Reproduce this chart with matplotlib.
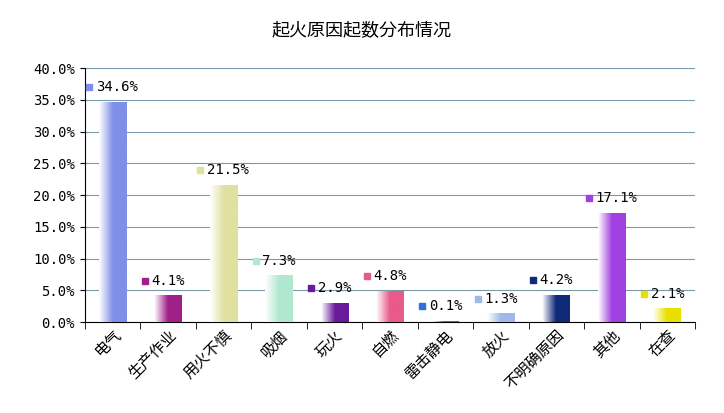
import numpy as np
import matplotlib.pyplot as plt
from matplotlib import font_manager
from matplotlib.colors import LinearSegmentedColormap

# pick whichever CJK face matplotlib actually knows about
names = {f.name for f in font_manager.fontManager.ttflist}
cjk = [n for n in ["Noto Sans CJK SC", "Noto Sans CJK JP", "Noto Sans CJK TC",
                   "Noto Sans CJK KR", "Noto Sans SC"] if n in names]
if not cjk:
    cjk = [f.name for f in font_manager.fontManager.ttflist if "CJK" in f.name or "CJK" in f.fname][:1]
plt.rcParams["font.family"] = cjk + ["DejaVu Sans"]

categories = ["电气", "生产作业", "用火不慎", "吸烟", "玩火", "自燃", "雷击静电", "放火", "不明确原因", "其他", "在查"]
values = [34.6, 4.1, 21.5, 7.3, 2.9, 4.8, 0.1, 1.3, 4.2, 17.1, 2.1]
colors = ["#7f8fe8", "#a0208a", "#e0e0a0", "#b0e8d0", "#6a1a9a", "#e85a8a",
          "#3070d8", "#a0b8e8", "#102a7a", "#a040e0", "#e8e000"]

fig = plt.figure(figsize=(7.24, 4.13), dpi=100)
ax = fig.add_axes([0.117, 0.22, 0.843, 0.615])
ax.set_xlim(-0.5, len(values) - 0.5)
ax.set_ylim(0, 40)

w = 0.5
for i, (v, c) in enumerate(zip(values, colors)):
    cmap = LinearSegmentedColormap.from_list("g", ["white", c, c])
    grad = np.linspace(0, 1, 64).reshape(1, -1)
    ax.imshow(grad, cmap=cmap, aspect="auto", extent=(i - w / 2, i + w / 2, 0, v), zorder=3)
    ax.plot(i - 0.5 + 0.08, v + 2.4, marker="s", ms=5, color=c, zorder=4, clip_on=False)
    ax.text(i - 0.5 + 0.2, v + 2.4, f"{v}%", va="center", ha="left", fontsize=10,
            family="DejaVu Sans Mono", zorder=4)

ax.set_yticks(np.arange(0, 41, 5))
ax.set_yticklabels([f"{t:.1f}%" for t in np.arange(0, 41, 5)], family="DejaVu Sans Mono", fontsize=10)
ax.yaxis.grid(True, color="#7a9aaa", lw=0.8)
ax.set_axisbelow(True)
ax.set_xticks(np.arange(len(values)))
ax.set_xticklabels(categories, rotation=45, ha="right", rotation_mode="anchor", fontsize=11)
ax.set_xticks(np.arange(len(values) + 1) - 0.5, minor=True)
ax.tick_params(axis="x", which="major", length=0)
ax.tick_params(axis="x", which="minor", length=5)
for s in ["top", "right"]:
    ax.spines[s].set_visible(False)
fig.suptitle("起火原因起数分布情况", y=0.95, fontsize=13)
fig.savefig("out.png")
